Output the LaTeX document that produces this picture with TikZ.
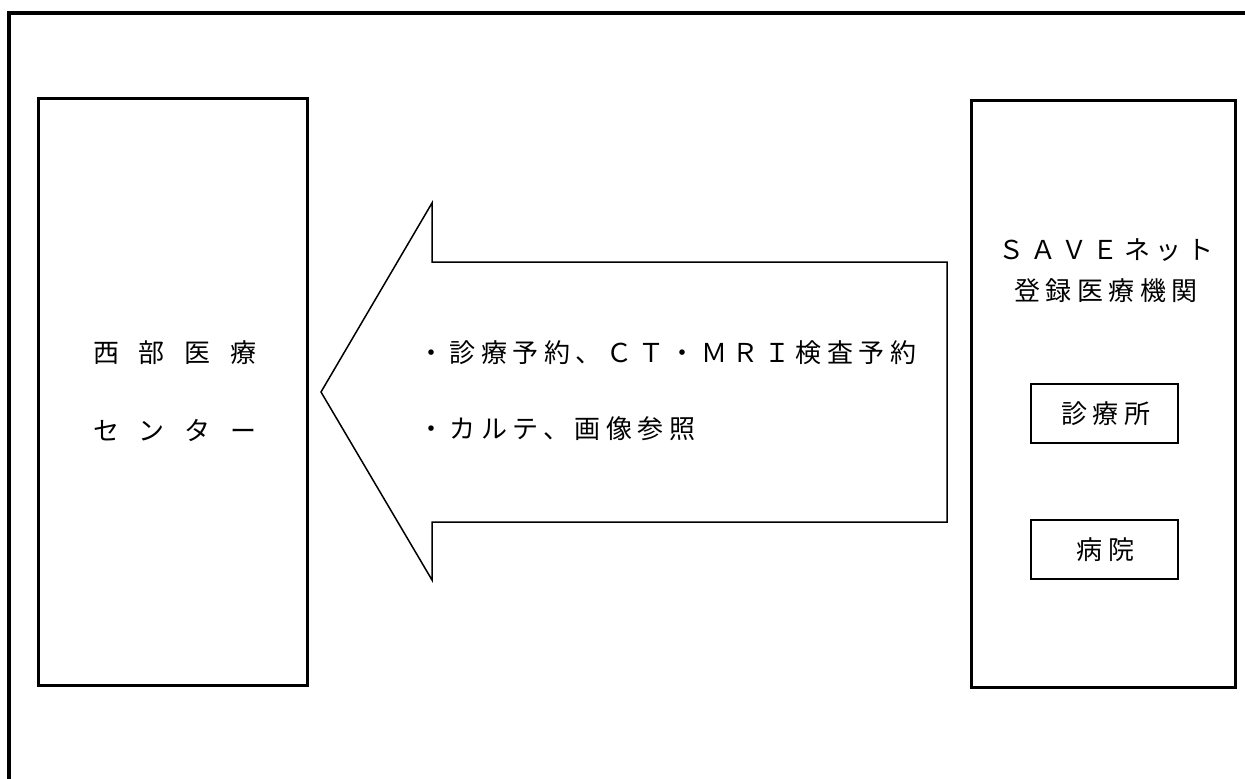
\documentclass[tikz,border=0pt]{standalone}
\usepackage{fontspec}
\newfontfamily\jpfont[LetterSpace=21]{Noto Sans CJK JP}
\newcommand\widegap{\hspace{20pt}}
\begin{document}
\begin{tikzpicture}[x=1pt,y=-1pt,
  frame/.style={line width=4pt},
  bigbox/.style={draw,line width=3pt,rectangle,inner sep=0pt},
  smallbox/.style={draw,line width=2pt,rectangle,inner sep=0pt,minimum width=147pt,minimum height=59pt},
  lbl/.style={inner sep=0pt,font=\jpfont\fontsize{26pt}{30pt}\selectfont},
  arrowshape/.style={draw,line width=1.5pt,line join=miter}]
\useasboundingbox (0,0) rectangle (1245,779);
\clip (0,0) rectangle (1245,779);
% outer frame (only left and top visible)
\draw[frame] (9,790) -- (9,13) -- (1260,13);
% left box
\node[bigbox,minimum width=269pt,minimum height=587pt] (west) at (172.5,391.5) {};
\node[lbl,anchor=base] (w1) at (175,362) {西\widegap 部\widegap 医\widegap 療};
\node[lbl,anchor=base] (w2) at (175,440) {セ\widegap ン\widegap タ\widegap ー};
% right box
\node[bigbox,minimum width=264pt,minimum height=587pt] (east) at (1103,393.5) {};
\node[lbl,anchor=base] (r1) at (1106,259) {ＳＡＶＥネット};
\node[lbl,anchor=base] (r2) at (1106,300) {登録医療機関};
\node[smallbox,lbl] (clinic) at (1104.5,413.5) {\hspace{3pt}診療所};
\node[smallbox,lbl] (hosp) at (1104,549.5) {\hspace{3pt}病院};
% big arrow
\draw[arrowshape] (321,392) -- (432,203) -- (432,262) -- (947,262) -- (947,522) -- (432,522) -- (432,580) -- cycle;
\node[lbl,anchor=base west] (t1) at (418,362) {・診療予約、ＣＴ・ＭＲＩ検査予約};
\node[lbl,anchor=base west] (t2) at (418,438) {・カルテ、画像参照};
\end{tikzpicture}
\end{document}
